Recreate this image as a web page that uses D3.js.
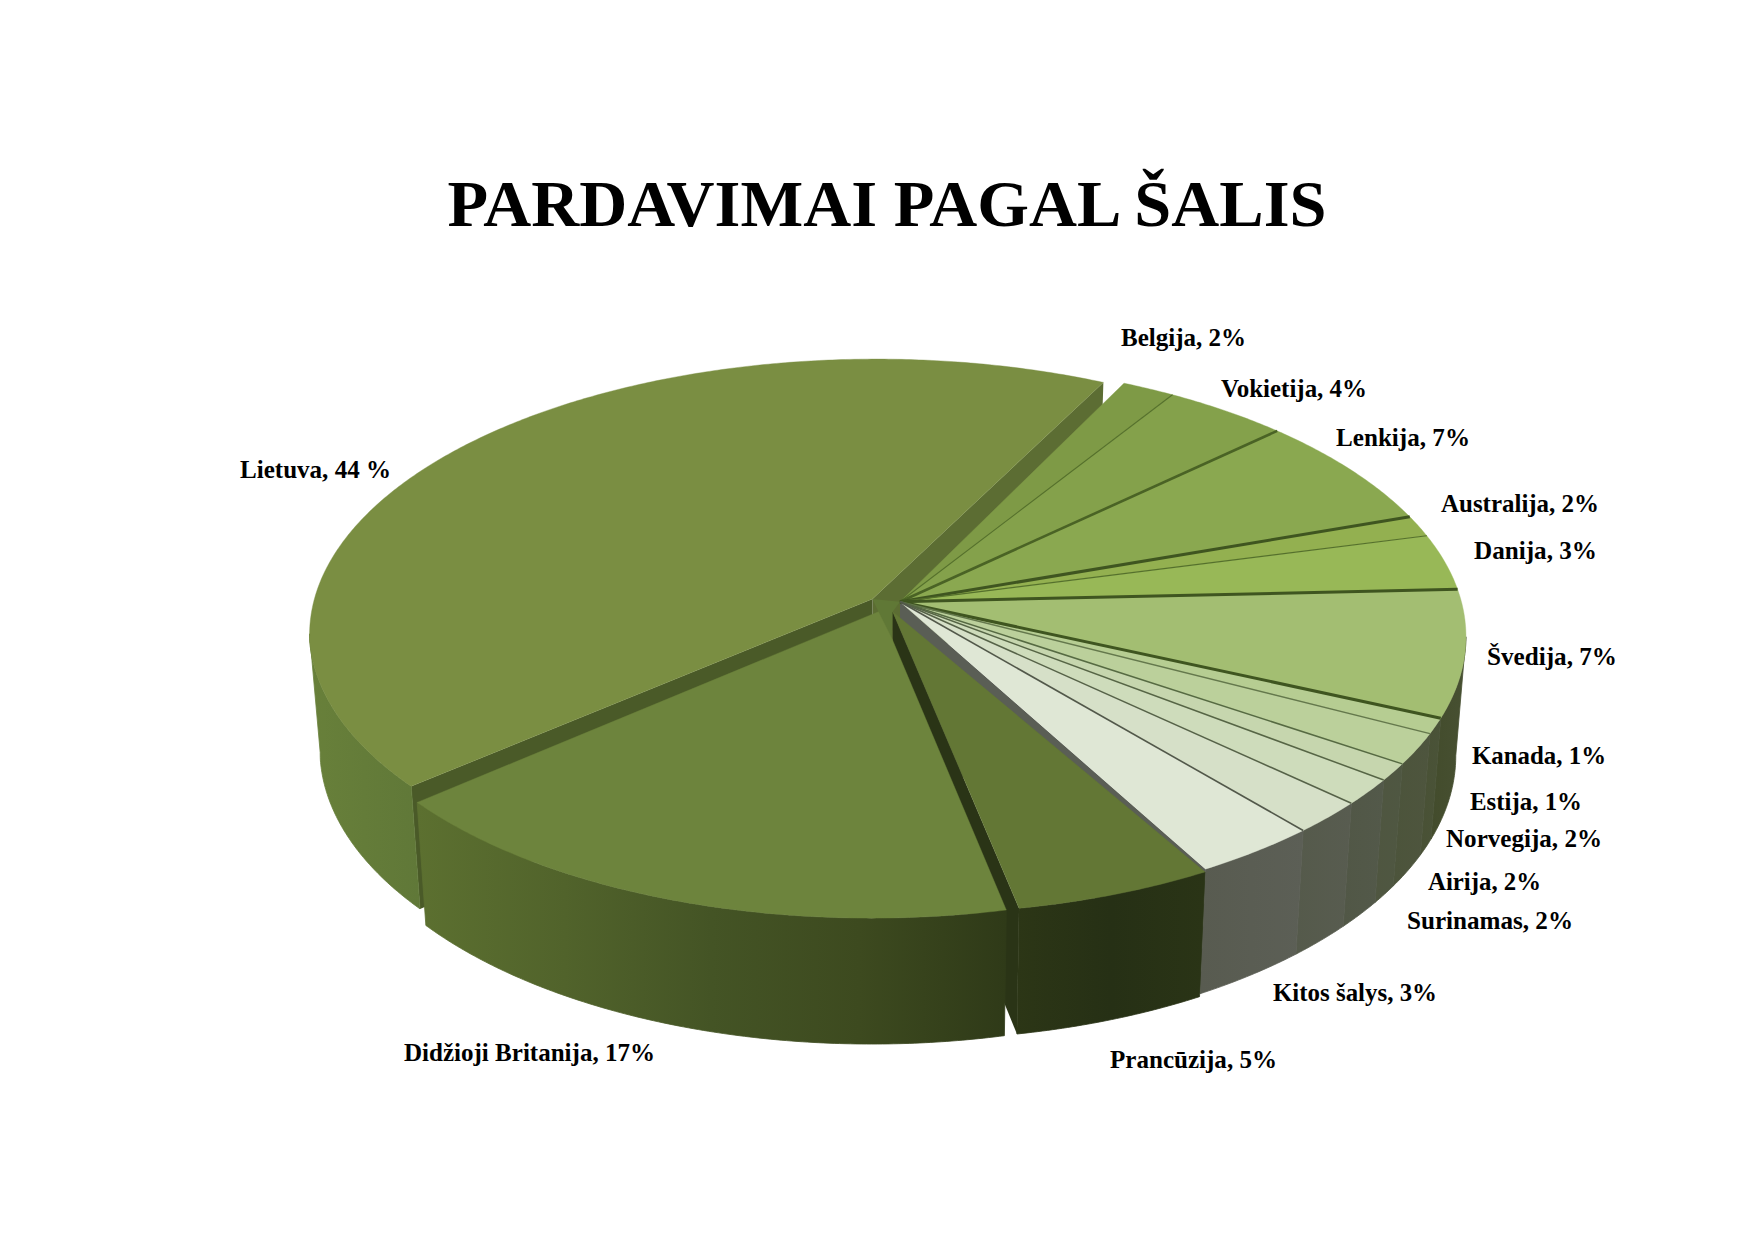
<!DOCTYPE html>
<html><head><meta charset="utf-8">
<script src="https://cdn.jsdelivr.net/npm/d3@7"></script>
<style>html,body{margin:0;padding:0;background:#fff}svg{display:block}
text{font-family:"Liberation Serif","Times New Roman",serif;font-weight:bold;fill:#000}</style>
</head><body><svg id="c" width="1754" height="1239"></svg>
<script>
const titleText = "PARDAVIMAI PAGAL ŠALIS";
const countries = ["Lietuva","Belgija","Vokietija","Lenkija","Australija","Danija","Švedija","Kanada","Estija","Norvegija","Airija","Surinamas","Kitos šalys","Prancūzija","Didžioji Britanija"];
const shareLabels = ["44 %","2%","4%","7%","2%","3%","7%","1%","1%","2%","2%","2%","3%","5%","17%"];
// slice sizes (angles of the drawn wedges), in percent
const shares = [43.6,1.7,4.0,6.7,1.25,3.3,7.4,0.9,1.8,1.0,1.5,1.9,3.2,4.7,17.1];

// styling
const topColors = ["#7a8e42","#7e9a46","#84a14b","#8aa850","#93b050","#98b857","#a3be72","#b6cd92","#bbd09b","#c6d6ae","#cedcbb","#d6e0c8","#dfe7d5","#637735","#6d843d"];
const wallStops = [
 ["#68803a","#607838"],[ "#5f7836","#5f7836"],["#5f7836","#5f7836"],["#5f7836","#5f7836"],["#5f7836","#5f7836"],["#5f7836","#5f7836"],
 ["#434c2c","#475032"],["#495135","#4a5338"],["#4c543b","#4e553e"],["#4f5640","#4f5742"],["#515746","#53594a"],["#555a4b","#585c50"],["#585b50","#5c5f56"],
 ["#2c3616","#263015","#2a3416"],["#5c7030","#51632b","#445425","#3d4a1f","#2f3a18"]];
const explode = [[-.0492,.01],[0,0],[0,0],[0,0],[0,0],[0,0],[0,0],[0,0],[0,0],[0,0],[0,0],[0,0],[0,0],[-.01294,-.0367],[-.0381,-.0367]];
const britainInnerApex = [-.01454,-.1314];
// radius along each wedge: [fraction of the wedge, radius]
const radiusStops = [[[0,.985],[.2,.995],[1,.998]],...d3.range(12).map(()=>[[0,1],[1,1]]),[[0,.981],[1,.9714]],[[0,.977],[1,.984]]];
// small corrections (degrees) to where an exploded wedge's edges were hand-placed
const anglePad = [[.3,.6],[0,0],[0,0],[0,0],[0,0],[0,0],[0,0],[0,0],[0,0],[0,0],[0,0],[0,0],[0,0],[-1.39,.24],[0,0]];
const dividerW = [0,1.1,2.6,3,1.2,3,3,1.4,1.5,1.5,1.5,1.6];
const dividerC = ["","#55702c","#4a6325","#3f5520","#55702c","#3f5520","#3f5520","#64784c","#566a42","#566545","#566248","#52584a"];
const labelPos = [[240,477.5],[1121,345.5],[1221,396.5],[1336,445.5],[1441,511.5],[1474,558.5],[1487,664.5],[1472,763.5],[1470,809.5],[1446,846.5],[1428,889.5],[1407,928.5],[1273,1000.5],[1110,1067.5],[404,1060.5]];
const labelW = [151,125,146,134,158,123,130,134,112,156,113,166,164,167,251];

const cx=900, cy=601.7, A=561.4, B=271.6, k=.1268;
const project=(X,Y,bottom)=>{const f=1+k*Y;let sx=A*X/f,sy=-B*Y/f;if(bottom){sx*=.982;sy=sy*1.025+118;}return [cx+sx,cy+sy];};

const svg=d3.select("#c"), defs=svg.append("defs"), line=d3.line();
const deg=Math.PI/180;
const pie=d3.pie().sort(null).startAngle(229.5*deg).endAngle(589.5*deg);
const arcs=pie(shares).map((d,i)=>({...d,startAngle:d.startAngle+anglePad[i][0]*deg,endAngle:d.endAngle+anglePad[i][1]*deg}));

const rimAngles=(a,b)=>{const n=Math.max(2,Math.ceil((b-a)/(0.5*deg)));return d3.range(n+1).map(i=>a+(b-a)*i/n);};
const radiusAt=i=>{const s=radiusStops[i],a=arcs[i];return d3.scaleLinear().domain(s.map(p=>a.startAngle+p[0]*(a.endAngle-a.startAngle))).range(s.map(p=>p[1]));};
const rimPt=(i,t,bottom)=>{const[o,p]=explode[i],r=radiusAt(i)(t);return project(o+r*Math.sin(t),p+r*Math.cos(t),bottom);};
const centerPt=(i,bottom)=>project(explode[i][0],explode[i][1],bottom);

function drawTop(i,extraApex){const d=arcs[i];
  // the extra apex sits next to the start of the rim
  const rim=rimAngles(d.startAngle,d.endAngle).map(t=>rimPt(i,t,false));
  const poly=extraApex?[extraApex,...rim,centerPt(i,false)]:[centerPt(i,false),...rim];
  svg.append("path").attr("d",line(poly)+"Z").attr("fill",topColors[i]).attr("stroke",topColors[i]).attr("stroke-width",.4);}
function drawRimWall(i){const d=arcs[i];
  let a=d.startAngle,b=d.endAngle;
  // only the front of the rim is visible, up to the tangent points of the ellipse
  const t0=97.3*deg,t1=262.7*deg;
  const ranges=[[t0,t1],[t0+2*Math.PI,t1+2*Math.PI]];
  let seg=null;for(const[r0,r1]of ranges){const s=Math.max(a,r0),e=Math.min(b,r1);if(e>s){seg=[s,e];break;}}
  if(!seg)return;
  const ts=rimAngles(seg[0],seg[1]);
  const upper=ts.map(t=>rimPt(i,t,false)),lower=ts.map(t=>rimPt(i,t,true));
  const xs=upper.concat(lower).map(p=>p[0]);
  const id="w"+i,g=defs.append("linearGradient").attr("id",id).attr("gradientUnits","userSpaceOnUse")
    .attr("x1",d3.min(xs)).attr("x2",d3.max(xs)).attr("y1",0).attr("y2",0);
  wallStops[i].forEach((c,j,all)=>g.append("stop").attr("offset",j/(all.length-1)).attr("stop-color",c));
  svg.append("path").attr("d",line(upper.concat(lower.reverse()))+"Z").attr("fill",`url(#${id})`)
    .attr("stroke",`url(#${id})`).attr("stroke-width",.8);}
function drawCut(i,t,color){
  const pts=[centerPt(i,false),rimPt(i,t,false),rimPt(i,t,true),centerPt(i,true)];
  svg.append("path").attr("d",line(pts)+"Z").attr("fill",color);}

// Lietuva
drawCut(0,arcs[0].endAngle,"#5c6d33");
drawCut(0,arcs[0].startAngle,"#4a5a28");
drawRimWall(0);drawTop(0);
// lighter hub between the separated wedges
svg.append("path").attr("d",line([centerPt(0),centerPt(1),centerPt(13),project(...britainInnerApex),centerPt(14)])+"Z").attr("fill","#607836");
// joined group
d3.range(1,13).forEach(drawRimWall);
drawCut(12,arcs[12].endAngle,"#5a5e55");
d3.range(1,13).forEach(i=>drawTop(i));
d3.range(1,12).forEach(i=>{
  svg.append("path").attr("d",line([centerPt(i,false),rimPt(i,arcs[i].endAngle,false)]))
    .attr("stroke",dividerC[i]).attr("stroke-width",dividerW[i]).attr("fill","none");});
// Prancūzija
drawCut(13,arcs[13].endAngle,"#2a3416");
drawRimWall(13);drawTop(13);
// Didžioji Britanija
drawRimWall(14);drawTop(14,project(...britainInnerApex));

// text
svg.append("text").attr("x",447.5).attr("y",226).attr("font-size",64.5)
  .attr("textLength",879).attr("lengthAdjust","spacingAndGlyphs").text(titleText);
countries.forEach((c,i)=>{
  svg.append("text").attr("x",labelPos[i][0]).attr("y",labelPos[i][1]).attr("font-size",26)
    .attr("textLength",labelW[i]).attr("lengthAdjust","spacingAndGlyphs").text(`${c}, ${shareLabels[i]}`);
});
</script></body></html>
